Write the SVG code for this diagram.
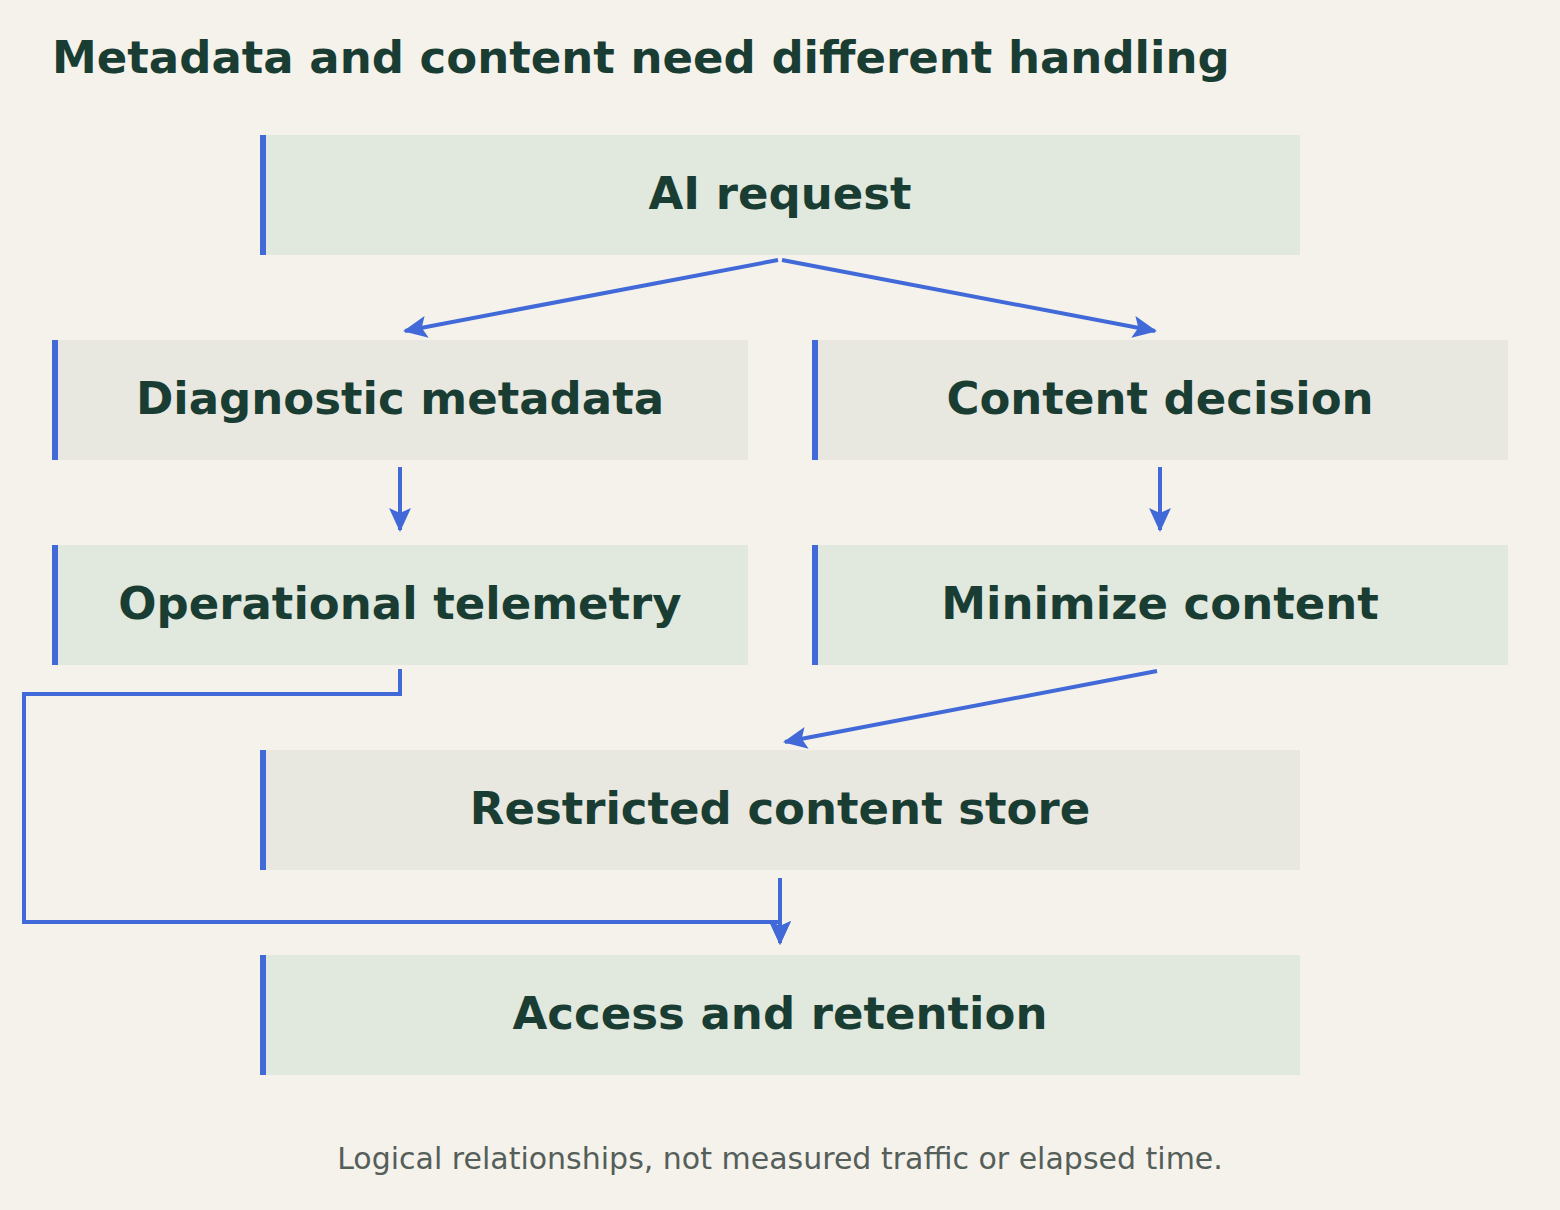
<svg xmlns="http://www.w3.org/2000/svg" width="1560" height="1210" viewBox="0 0 1560 1210">
<style>
.t{font-family:"DejaVu Sans",sans-serif;font-weight:bold;fill:#1a3d33}
.n{font-size:45px;text-anchor:middle}
.a{fill:#e1e8de}.b{fill:#e8e8e0}.bar{fill:#4169d8}
.c{fill:none;stroke:#4169d8;stroke-width:4;marker-end:url(#m)}
</style>
<defs><marker id="m" viewBox="0 0 24 24" refX="22" refY="12" markerWidth="24" markerHeight="24" orient="auto" markerUnits="userSpaceOnUse"><path d="M0,1 L24,12 L0,23 L5,12 Z" fill="#4169d8"/></marker></defs>
<rect width="1560" height="1210" fill="#f5f2ec"/>
<text class="t" x="52" y="73" font-size="45">Metadata and content need different handling</text>
<g id="ai"><rect class="a" x="260" y="135" width="1040" height="120"/><rect class="bar" x="260" y="135" width="6" height="120"/><text class="t n" x="780" y="209">AI request</text></g>
<g id="diag"><rect class="b" x="52" y="340" width="696" height="120"/><rect class="bar" x="52" y="340" width="6" height="120"/><text class="t n" x="400" y="414">Diagnostic metadata</text></g>
<g id="cdec"><rect class="b" x="812" y="340" width="696" height="120"/><rect class="bar" x="812" y="340" width="6" height="120"/><text class="t n" x="1160" y="414">Content decision</text></g>
<g id="optel"><rect class="a" x="52" y="545" width="696" height="120"/><rect class="bar" x="52" y="545" width="6" height="120"/><text class="t n" x="400" y="619">Operational telemetry</text></g>
<g id="min"><rect class="a" x="812" y="545" width="696" height="120"/><rect class="bar" x="812" y="545" width="6" height="120"/><text class="t n" x="1160" y="619">Minimize content</text></g>
<g id="store"><rect class="b" x="260" y="750" width="1040" height="120"/><rect class="bar" x="260" y="750" width="6" height="120"/><text class="t n" x="780" y="824">Restricted content store</text></g>
<g id="access"><rect class="a" x="260" y="955" width="1040" height="120"/><rect class="bar" x="260" y="955" width="6" height="120"/><text class="t n" x="780" y="1029">Access and retention</text></g>
<g id="connectors">
<path class="c" d="M778,260 L405,331"/>
<path class="c" d="M782,260 L1155,331"/>
<path class="c" d="M400,467 L400,530"/>
<path class="c" d="M1160,467 L1160,530"/>
<path class="c" d="M1157,671 L785,742"/>
<path class="c" d="M780,878 L780,943"/>
<path class="c" d="M400,669 L400,694 L24,694 L24,922 L780,922 L780,943"/>
</g>
<text x="780" y="1169" font-family="DejaVu Sans,sans-serif" font-size="30" fill="#555f5a" text-anchor="middle">Logical relationships, not measured traffic or elapsed time.</text>
</svg>
